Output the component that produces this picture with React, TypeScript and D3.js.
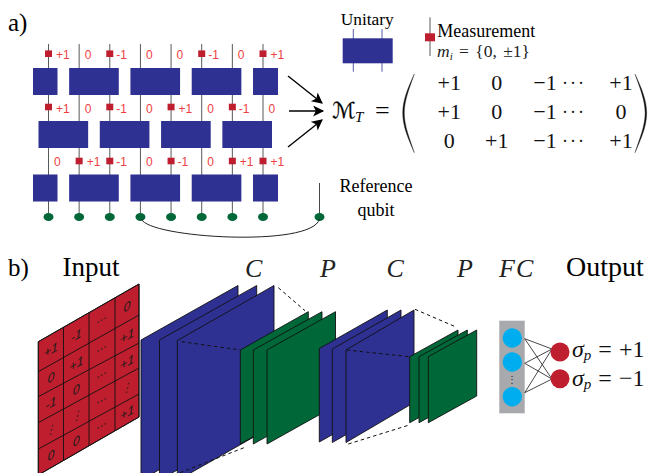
import React from "react";
import * as d3 from "d3";

// ---------- panel a data
const measurementRows: number[][] = [
  [1, 0, -1, 0, 0, -1, 0, 1],
  [1, 0, -1, 0, 1, 0, -1, 0],
  [0, 1, -1, 0, -1, 0, 1, 1],
];
const unitaryRows: [number, number][][] = [
  [[0, 0], [1, 2], [3, 4], [5, 6], [7, 7]],
  [[0, 1], [2, 3], [4, 5], [6, 7]],
  [[0, 0], [1, 2], [3, 4], [5, 6], [7, 7]],
];
const matrixRows: string[][] = [
  ["+1", "0", "−1", "+1"],
  ["+1", "0", "−1", "0"],
  ["0", "+1", "−1", "+1"],
];
// ---------- panel b data
const inputCols: string[][] = [
  ["+1", "0", "-1", "⋮", "0"],
  ["-1", "+1", "0", "⋮", "0"],
  ["...", "...", "...", "...", "..."],
  ["0", "+1", "+1", "⋮", "+1"],
];
const gridLeftY = [341.7, 371.7, 396.7, 422.7, 449, 475];
const gridRightY = [284, 315, 343, 368, 394, 417];
const gridColX = [38.3, 63.5, 89, 115, 139];
// [left x, top-left y, right x, top-right y, height]
const blue1: number[][] = [
  [141, 340, 238, 285.5, 140],
  [159.5, 340, 256.7, 285.5, 140],
  [177.3, 340.5, 274, 285.5, 140],
];
const green1: number[][] = [
  [240.3, 350, 308.3, 311.7, 94],
  [253.3, 350, 322, 311.7, 94],
  [267, 350, 335.5, 311.7, 94],
];
const blue2: number[][] = [
  [319.3, 348.5, 387.3, 310, 93.5],
  [332.3, 349, 401, 310, 93.5],
  [346, 350, 414, 310, 92.5],
];
const green2: number[][] = [
  [409.7, 356.7, 458, 330, 66],
  [419, 356.7, 467.3, 330, 66],
  [428.3, 356.7, 476.7, 330, 66],
];
const dashed: number[][] = [
  [278.3, 287.7, 305, 310.7],
  [181.7, 341.7, 240, 350],
  [180, 472.7, 245, 447.3],
  [415, 309.3, 456.7, 327.3],
  [346.7, 350, 410, 356.7],
  [348.3, 444, 409.3, 425],
];
const fcNodesY = [338, 362, 396.7];
const fcWireY = [338.7, 363.3, 392.7];
const outNodesY = [352, 378.7];
const outWireY = [349, 379];
const wireIndex = [0, 1, 2, 3, 4, 5, 6, 7];

const BLUE = "#2e3192";
const RED = "#be1e2d";
const GREEN = "#006838";
const SERIF = "'Liberation Serif', serif";
const SANS = "'Liberation Sans', sans-serif";

const wireX = d3.scaleLinear().domain([0, 7]).range([48.5, 263]);
const measureY = [53.7, 107, 161];
const measureTextY = [59, 112.7, 165.7];
const unitaryY = [[68, 95], [121, 148], [174.5, 201.5]];
const matrixColX = d3.scaleOrdinal<number, number>().domain([0, 1, 2, 3]).range([449.3, 496.7, 545, 621]);
const matrixRowY = d3.scalePoint<number>().domain([0, 1, 2]).range([90, 148.3]);

const poly = d3.line();

function fmt(v: number) {
  return v > 0 ? "+1" : v < 0 ? "-1" : "0";
}

function Layers({ data, fill }: { data: number[][]; fill: string }) {
  return (
    <g>
      {data.map(([xl, yl, xr, yr, h], i) => (
        <path
          key={i}
          d={poly([[xl, yl], [xr, yr], [xr, yr + h], [xl, yl + h]]) + "Z"}
          fill={fill}
          stroke="#111"
          strokeWidth={0.9}
        />
      ))}
    </g>
  );
}

function Paren({ x0, x1 }: { x0: number; x1: number }) {
  const w = x1 - x0;
  const t = w > 0 ? 1.6 : -1.6;
  const d =
    `M${x0},74 C${x0 + w * 0.55},88 ${x1},100 ${x1},113 C${x1},126 ${x0 + w * 0.55},138 ${x0},152.7 ` +
    `C${x0 + w * 0.55 - t},138 ${x1 - t},126 ${x1 - t},113 C${x1 - t},100 ${x0 + w * 0.55 - t},88 ${x0},74 Z`;
  return <path d={d} fill="#111" stroke="#111" strokeWidth={0.35} />;
}

export default function App() {
  const gridPt = (c: number, r: number): [number, number] => {
    const f = d3.scaleLinear().domain([gridColX[0], gridColX[4]]);
    const fx = d3.scaleLinear().domain([0, 1]);
    const ci = Math.floor(c);
    const x = ci >= 4 ? gridColX[4] : fx.range([gridColX[ci], gridColX[ci + 1]])(c - ci);
    const ri = Math.floor(r);
    const yAt = (ys: number[]) => (ri >= 5 ? ys[5] : fx.range([ys[ri], ys[ri + 1]])(r - ri));
    const y = f.range([yAt(gridLeftY), yAt(gridRightY)])(x);
    return [x, y];
  };

  return (
    <svg width={649} height={473} style={{ position: "absolute", left: 0, top: 0, background: "#fff" }}>
      {/* panel labels */}
      <text x={8} y={31} fontFamily={SERIF} fontSize={25}>a)</text>
      <text x={8} y={276} fontFamily={SERIF} fontSize={25}>b)</text>

      {/* wires */}
      {wireIndex.map((k) => (
        <line key={k} x1={wireX(k)} x2={wireX(k)} y1={44} y2={217} stroke="#58595b" strokeWidth={1} />
      ))}
      <line x1={319.5} x2={319.5} y1={183} y2={217} stroke="#333" strokeWidth={0.9} />

      {/* unitaries */}
      {unitaryRows.map((row, r) =>
        row.map(([a, b], i) => {
          const left = wireX(a) - (a === b && a === 0 ? 15.5 : 10);
          const right = wireX(b) + (a === b && b === 7 ? 15 : 9);
          return (
            <rect key={`${r}-${i}`} x={left} y={unitaryY[r][0]} width={right - left} height={unitaryY[r][1] - unitaryY[r][0]} fill={BLUE} />
          );
        })
      )}

      {/* measurements */}
      {measurementRows.map((row, r) =>
        row.map((v, k) => (
          <g key={`${r}-${k}`}>
            {v !== 0 && <rect x={wireX(k) - 3.5} y={measureY[r] - 3.3} width={7} height={6.6} fill={RED} />}
            <text
              x={wireX(k) + (v === 0 ? 5.5 : v > 0 ? 7.5 : 6.5)}
              y={measureTextY[r]}
              fontFamily={SANS}
              fontSize={12}
              fill="#ef3e42"
            >
              {fmt(v)}
            </text>
          </g>
        ))
      )}

      {/* qubits */}
      {[...wireIndex.map((k) => wireX(k)), 319.5].map((x, i) => (
        <ellipse key={i} cx={x} cy={217} rx={5} ry={4} fill={GREEN} />
      ))}
      <path d="M141.5,219 C148,238 312,248 319.5,219" fill="none" stroke="#222" strokeWidth={1} />

      {/* arrows */}
      <defs>
        <marker id="ah" viewBox="0 0 10 10" refX={9} refY={5} markerWidth={13} markerHeight={11} markerUnits="userSpaceOnUse" orient="auto">
          <path d="M0,0 L10,5 L0,10 L2.5,5 Z" fill="#000" />
        </marker>
      </defs>
      {[[288, 76, 322, 103], [289, 111, 323, 111], [288, 147, 322, 120]].map(([a, b, c, d], i) => (
        <line key={i} x1={a} y1={b} x2={c} y2={d} stroke="#000" strokeWidth={1.4} markerEnd="url(#ah)" />
      ))}

      {/* legend */}
      <text x={340.7} y={25} fontFamily={SERIF} fontSize={17.4}>Unitary</text>
      <line x1={353.3} x2={353.3} y1={29} y2={71.7} stroke={BLUE} strokeWidth={0.8} />
      <line x1={382} x2={382} y1={29} y2={71.7} stroke={BLUE} strokeWidth={0.8} />
      <rect x={342.7} y={38.3} width={50} height={25} fill={BLUE} />
      <line x1={430} x2={430} y1={17.3} y2={56} stroke="#58595b" strokeWidth={1} />
      <rect x={425} y={33.3} width={10} height={8} fill={RED} />
      <text x={437.3} y={37} fontFamily={SERIF} fontSize={18}>Measurement</text>
      <text x={437} y={56.5} fontFamily={SERIF} fontSize={17.5} fill="#222" wordSpacing={2}>
        <tspan fontStyle="italic">m</tspan>
        <tspan fontStyle="italic" fontSize={11} dy={3}>i</tspan>
        <tspan dy={-3}> = {"{"}0, ±1{"}"}</tspan>
      </text>
      <text x={376} y={191.7} textAnchor="middle" fontFamily={SERIF} fontSize={18}>Reference</text>
      <text x={376} y={216} textAnchor="middle" fontFamily={SERIF} fontSize={18}>qubit</text>

      {/* matrix */}
      <text x={332} y={118} fontFamily="'DejaVu Sans', serif" fontStyle="italic" fontSize={22} stroke="#111" strokeWidth={0.3}>ℳ</text>
      <text x={355} y={122} fontFamily={SERIF} fontStyle="italic" fontSize={15}>T</text>
      <text x={375} y={119} fontFamily={SERIF} fontSize={26}>=</text>
      <Paren x0={414.3} x1={402.7} />
      <Paren x0={635} x1={646.7} />
      {matrixRows.map((row, r) =>
        row.map((s, c) => (
          <text key={`${r}-${c}`} x={matrixColX(c)} y={matrixRowY(r)} textAnchor="middle" fontFamily={SERIF} fontSize={22} fill="#111">
            {s}
          </text>
        ))
      )}
      {matrixRows.map((_, r) => (
        <text key={r} x={574} y={matrixRowY(r)! - 1.5} textAnchor="middle" fontFamily={SERIF} fontSize={18} fill="#111" letterSpacing={2}>
          ···
        </text>
      ))}

      {/* panel b headers */}
      <text x={62.5} y={276} fontFamily={SERIF} fontSize={27}>Input</text>
      <text x={566} y={276} fontFamily={SERIF} fontSize={28}>Output</text>
      {[["C", 245], ["P", 320], ["C", 386.5], ["P", 457], ["FC", 499]].map(([t, x], i) => (
        <text key={i} x={x as number} y={277} fontFamily={SERIF} fontStyle="italic" fontSize={26} fill="#222" letterSpacing={1}>{t}</text>
      ))}

      {/* input grid */}
      <path d={poly([[gridColX[0], gridLeftY[0]], [gridColX[4], gridRightY[0]], [gridColX[4], gridRightY[5]], [gridColX[0], gridLeftY[5]]]) + "Z"} fill={RED} stroke="#111" strokeWidth={0.9} />
      {gridLeftY.map((_, r) => (
        <line key={r} x1={gridColX[0]} y1={gridLeftY[r]} x2={gridColX[4]} y2={gridRightY[r]} stroke="#111" strokeWidth={0.9} />
      ))}
      {gridColX.map((x, c) => (
        <line key={c} x1={x} x2={x} y1={gridPt(c, 0)[1]} y2={gridPt(c, 5)[1]} stroke="#111" strokeWidth={0.9} />
      ))}
      {inputCols.map((col, c) =>
        col.map((s, r) => {
          const [cx, cy] = gridPt(c + 0.5, r + 0.5);
          return (
            <text
              key={`${c}-${r}`}
              transform={`translate(${cx},${cy}) skewY(-29.7)`}
              textAnchor="middle"
              dy={s === "..." ? 0 : 4.5}
              fontFamily={SANS}
              fontStyle="italic"
              fontSize={s === "⋮" ? 11 : 12.5}
              fill="#1a1a1a"
            >
              {s}
            </text>
          );
        })
      )}

      {/* network layers */}
      <Layers data={blue1} fill={BLUE} />
      <Layers data={green1} fill={GREEN} />
      <Layers data={blue2} fill={BLUE} />
      <Layers data={green2} fill={GREEN} />
      {dashed.map(([a, b, c, d], i) => (
        <line key={i} x1={a} y1={b} x2={c} y2={d} stroke="#111" strokeWidth={1} strokeDasharray="3.5 3" />
      ))}

      {/* fully connected */}
      <rect x={499.3} y={320.7} width={25.4} height={92.6} fill="#a7a9ac" />
      {fcWireY.map((y0, i) =>
        outWireY.map((y1, j) => (
          <line key={`${i}-${j}`} x1={524.7} y1={y0} x2={552} y2={y1} stroke="#333" strokeWidth={0.9} />
        ))
      )}
      {fcNodesY.map((y, i) => (
        <circle key={i} cx={512.3} cy={y} r={9.7} fill="#00aeef" />
      ))}
      <text x={512.3} y={383} textAnchor="middle" fontFamily={SERIF} fontSize={10} fill="#222">⋮</text>
      {outNodesY.map((y, i) => (
        <circle key={i} cx={560} cy={y} r={9.5} fill={RED} />
      ))}
      {["+1", "−1"].map((s, i) => (
        <text key={i} x={572} y={[357, 386][i]} fontFamily={SERIF} fontSize={24} fill="#111" wordSpacing={1}>
          <tspan fontStyle="italic">σ</tspan>
          <tspan fontStyle="italic" fontSize={15} dy={3}>p</tspan>
          <tspan dy={-3}> = {s}</tspan>
        </text>
      ))}
    </svg>
  );
}
